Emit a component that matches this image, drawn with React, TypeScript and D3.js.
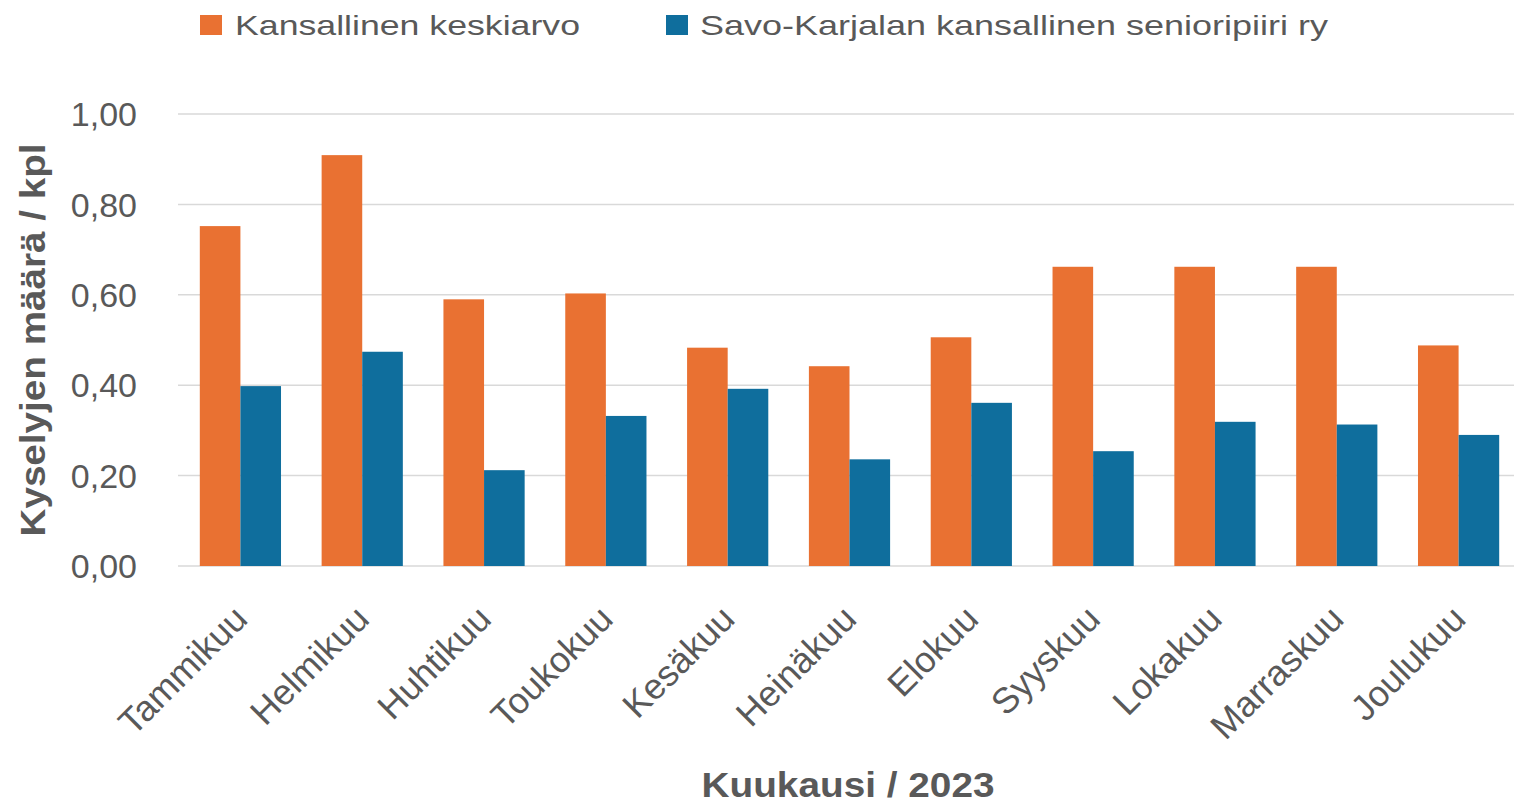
import React from "react";
import * as d3 from "d3";

const months = [
  "Tammikuu", "Helmikuu", "Huhtikuu", "Toukokuu", "Kesäkuu", "Heinäkuu",
  "Elokuu", "Syyskuu", "Lokakuu", "Marraskuu", "Joulukuu",
];
const seriesNames = ["Kansallinen keskiarvo", "Savo-Karjalan kansallinen senioripiiri ry"];
const national = [0.752, 0.909, 0.59, 0.603, 0.483, 0.442, 0.506, 0.662, 0.662, 0.662, 0.488];
const savoKarjala = [0.398, 0.474, 0.212, 0.332, 0.392, 0.236, 0.361, 0.254, 0.319, 0.313, 0.29];
const yTicks = [0, 0.2, 0.4, 0.6, 0.8, 1.0];
const colors = ["#E97132", "#0F6E9D"];
const yTitle = "Kyselyjen määrä / kpl";
const xTitle = "Kuukausi / 2023";

const W = 1514;
const H = 806;
const TEXT = "#595959";
const FONT = "'Liberation Sans', Arial, sans-serif";

export default function App() {
  const x0 = d3.scaleBand<string>().domain(months).range([179.5, 1519.5]).padding(0);
  const x1 = d3
    .scaleBand<string>()
    .domain(seriesNames)
    .range([0, x0.bandwidth()])
    .paddingInner(0)
    .paddingOuter(0.5);
  const y = d3.scaleLinear().domain([0, 1]).range([566, 114]);
  const fmt = (v: number) => v.toFixed(2).replace(".", ",");
  const data = [national, savoKarjala];

  const legend = [
    { name: seriesNames[0], sx: 200, tx: 235, tl: 345 },
    { name: seriesNames[1], sx: 666, tx: 700, tl: 628 },
  ];

  return (
    <svg
      width={W}
      height={H}
      style={{ position: "absolute", left: 0, top: 0, background: "#fff" }}
      fontFamily={FONT}
    >
      <rect x={0} y={0} width={W} height={H} fill="#fff" />
      {yTicks.map((t) => (
        <line
          key={"g" + t}
          x1={178}
          x2={W}
          y1={y(t)}
          y2={y(t)}
          stroke="#D9D9D9"
          strokeWidth={1.5}
        />
      ))}
      {yTicks.map((t) => (
        <text
          key={"t" + t}
          x={137}
          y={y(t)}
          dy="0.36em"
          textAnchor="end"
          fontSize={34}
          fill={TEXT}
        >
          {fmt(t)}
        </text>
      ))}
      {months.map((m, i) => (
        <g key={m} transform={`translate(${x0(m)},0)`}>
          {seriesNames.map((s, si) => (
            <rect
              key={s}
              x={x1(s)}
              y={y(data[si][i])}
              width={x1.bandwidth()}
              height={y(0) - y(data[si][i])}
              fill={colors[si]}
            />
          ))}
        </g>
      ))}
      {months.map((m) => {
        const cx = (x0(m) as number) + x0.bandwidth() / 2 + 9;
        const cy = 621;
        return (
          <text
            key={"l" + m}
            transform={`translate(${cx},${cy}) rotate(-45)`}
            textAnchor="end"
            fontSize={36}
            fill={TEXT}
          >
            {m}
          </text>
        );
      })}
      <text
        transform={`translate(45,${(y(0) + y(1)) / 2}) rotate(-90)`}
        textAnchor="middle"
        fontSize={35}
        fontWeight="bold"
        fill={TEXT}
        textLength={393}
        lengthAdjust="spacingAndGlyphs"
      >
        {yTitle}
      </text>
      <text
        x={848}
        y={797}
        textAnchor="middle"
        fontSize={35}
        fontWeight="bold"
        fill={TEXT}
        textLength={293}
        lengthAdjust="spacingAndGlyphs"
      >
        {xTitle}
      </text>
      {legend.map((l, i) => (
        <g key={l.name}>
          <rect x={l.sx} y={15} width={22} height={20} fill={colors[i]} />
          <text
            x={l.tx}
            y={35}
            fontSize={28}
            fill={TEXT}
            textLength={l.tl}
            lengthAdjust="spacingAndGlyphs"
          >
            {l.name}
          </text>
        </g>
      ))}
    </svg>
  );
}
